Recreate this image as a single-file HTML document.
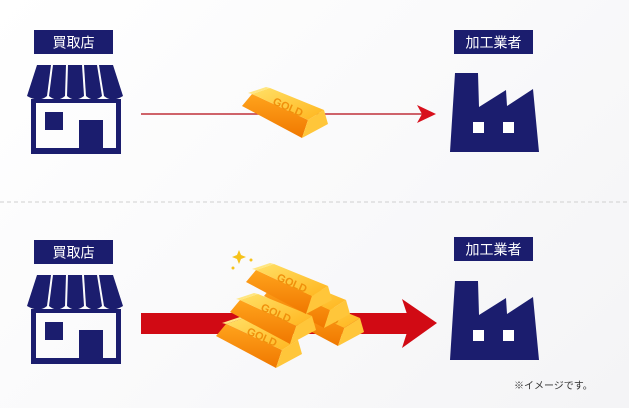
<!DOCTYPE html>
<html><head><meta charset="utf-8"><style>
html,body{margin:0;padding:0;}
body{width:629px;height:408px;overflow:hidden;background:linear-gradient(135deg,#ffffff 0%,#f4f4f6 100%);font-family:"Liberation Sans","Noto Sans CJK JP",sans-serif;}
svg{position:absolute;left:0;top:0}
</style></head><body>
<svg width="629" height="408" viewBox="0 0 629 408" xmlns="http://www.w3.org/2000/svg">
<defs>
<linearGradient id="gt" x1="0" y1="0" x2="1" y2="1"><stop offset="0" stop-color="#ffe066"/><stop offset="1" stop-color="#ffb51e"/></linearGradient>
<linearGradient id="gf" x1="0" y1="0" x2="0" y2="1"><stop offset="0" stop-color="#ffa41c"/><stop offset="1" stop-color="#f07800"/></linearGradient>
<g id="store">
<g fill="#1b1d6e">
<path d="M10 0 H24 L20 31 Q12 38 0 31 Z"/>
<path d="M26 0 H39 L38 31 Q30 38 22 31 Z"/>
<path d="M41 0 H55 L57 31 Q48 38 40 31 Z"/>
<path d="M57 0 H70 L75 31 Q67 38 59 31 Z"/>
<path d="M72 0 H86 L96 31 Q85 38 77 31 Z"/>
</g>
<path d="M4 34 H94 V89 H4 Z M9 38 V83 H89 V38 Z" fill="#1b1d6e" fill-rule="evenodd"/>
<rect x="18" y="47" width="18" height="18" fill="#1b1d6e"/>
<rect x="52" y="55" width="24" height="30" fill="#1b1d6e"/>
</g>
<g id="fac">
<path d="M0 82 L5 3 H28 L29 37 L56 20 L57 36 L83 19 L89 82 Z" fill="#1b1d6e"/>
<rect x="23" y="52" width="11" height="11" fill="#fff"/><rect x="53" y="52" width="11" height="11" fill="#fff"/>
</g>
<g id="bar">
<polygon points="10,6 0,18 60,50 66,32" fill="url(#gf)"/>
<polygon points="66,32 82,22 86,36 60,50" fill="#ffc63a"/>
<polygon points="10,6 28,0 82,22 66,32" fill="url(#gt)"/>
<polygon points="10,6 28,0 24,-1 6,5" fill="#ffe680"/>
<text x="30" y="16" font-size="11" font-weight="bold" fill="#f0900c" transform="rotate(24 30 16)" font-family="Liberation Sans,sans-serif">GOLD</text>
</g>
</defs>
<line x1="0" y1="202" x2="629" y2="202" stroke="#d0d0d0" stroke-dasharray="4 3"/>
<!-- top -->
<rect x="34" y="30" width="79" height="24" fill="#1b1d6e"/>
<text x="73.5" y="47.5" font-size="14" fill="#fff" text-anchor="middle">買取店</text>
<use href="#store" x="27" y="65"/>
<line x1="141" y1="114" x2="422" y2="114" stroke="#c0303a" stroke-width="1.5"/>
<polygon points="417,105 436,114 417,123 422,114" fill="#d8101c"/>
<use href="#bar" x="242" y="88"/>
<rect x="454" y="30" width="79" height="24" fill="#1b1d6e"/>
<text x="493.5" y="47.5" font-size="14" fill="#fff" text-anchor="middle">加工業者</text>
<use href="#fac" x="450" y="70"/>
<!-- bottom -->
<rect x="34" y="240" width="79" height="24" fill="#1b1d6e"/>
<text x="73.5" y="257.5" font-size="14" fill="#fff" text-anchor="middle">買取店</text>
<use href="#store" x="27" y="275"/>
<rect x="141" y="313" width="270" height="21" fill="#d10a14"/>
<polygon points="402,299 437,323 402,348 410,323" fill="#d10a14"/>
<use href="#bar" x="278" y="296"/>
<use href="#bar" x="264" y="278"/>
<use href="#bar" x="216" y="318"/>
<use href="#bar" x="230" y="294"/>
<use href="#bar" x="246" y="264"/>
<path d="M239 250 l2 5 l5 2 l-5 2 l-2 5 l-2 -5 l-5 -2 l5 -2z" fill="#f6c21a"/>
<circle cx="251" cy="260" r="1.5" fill="#f6c21a"/><circle cx="233" cy="268" r="1.5" fill="#f6c21a"/>
<rect x="454" y="237" width="79" height="24" fill="#1b1d6e"/>
<text x="493.5" y="254.5" font-size="14" fill="#fff" text-anchor="middle">加工業者</text>
<use href="#fac" x="450" y="278"/>
<text x="514" y="389" font-size="10" fill="#333">※イメージです。</text>
</svg>
</body></html>
